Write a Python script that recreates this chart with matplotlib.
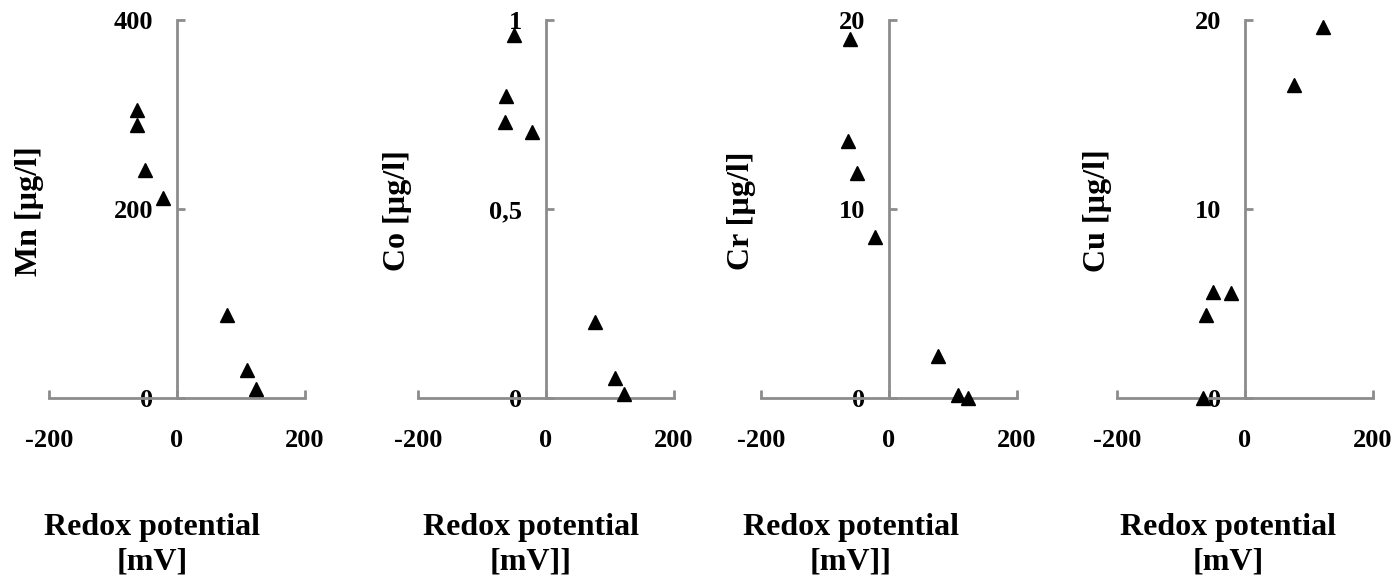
import matplotlib
matplotlib.use("Agg")
import matplotlib.pyplot as plt

# valores
redox_mn = [-63, -62, -50, -22, 78, 109, 123]
mn = [305, 289, 241, 212, 88, 30, 10]
redox_co = [-50, -62, -64, -22, 77, 108, 122]
co = [0.96, 0.80, 0.73, 0.705, 0.20, 0.053, 0.01]
redox_cr = [-61, -64, -50, -22, 77, 108, 124]
cr = [19.0, 13.6, 11.9, 8.5, 2.2, 0.15, 0.0]
redox_cu = [-65, -61, -50, -22, 77, 122]
cu = [0.0, 4.4, 5.6, 5.55, 16.55, 19.65]

y_labels = ['Mn [µg/l]', 'Co [µg/l]', 'Cr [µg/l]', 'Cu [µg/l]']
x_label_1 = 'Redox potential'
x_label_2 = ['[mV]', '[mV]]', '[mV]]', '[mV]']
y_ticks = [[0, 200, 400], [0, 0.5, 1], [0, 10, 20], [0, 10, 20]]
y_ticklabels = [['0', '200', '400'], ['0', '0,5', '1'], ['0', '10', '20'], ['0', '10', '20']]
x_ticks = [-200, 0, 200]
x_ticklabels = ['-200', '0', '200']

series = [(redox_mn, mn), (redox_co, co), (redox_cr, cr), (redox_cu, cu)]

plt.rcParams['font.family'] = ['Liberation Serif', 'DejaVu Serif']
plt.rcParams['font.weight'] = 'bold'
plt.rcParams['axes.unicode_minus'] = False

W, H = 1396, 580
fig = plt.figure(figsize=(W / 100, H / 100), dpi=100)

gris = '#8c8c8c'
izq_px = [49, 418, 761, 1117]
ylab_px = [29, 398, 741, 1097]
xlab_px = [152, 531, 851, 1228]

for i, (x, y) in enumerate(series):
    ax = fig.add_axes([izq_px[i] / W, (H - 398) / H, 256 / W, 378 / H])
    ax.plot(x, y, linestyle='none', marker='^', color='black', markersize=10.5,
            clip_on=False, zorder=5)
    ax.set_xlim(-200, 200)
    ax.set_ylim(y_ticks[i][0], y_ticks[i][-1])
    ax.spines['left'].set_position(('data', 0))
    ax.spines['right'].set_visible(False)
    ax.spines['top'].set_visible(False)
    for s in ['left', 'bottom']:
        ax.spines[s].set_color(gris)
        ax.spines[s].set_linewidth(2)
    ax.set_xticks(x_ticks)
    ax.set_xticklabels(x_ticklabels)
    ax.set_yticks(y_ticks[i])
    ax.set_yticklabels(y_ticklabels[i])
    ax.tick_params(axis='x', direction='in', length=6, width=2, color=gris,
                   pad=22, labelsize=19)
    ax.tick_params(axis='y', direction='in', length=6, width=2, color=gris,
                   pad=17, labelsize=19)
    ax.patch.set_visible(False)

    fig.text(ylab_px[i] / W, 1 - 211 / H, y_labels[i], rotation=90,
             ha='center', va='center', fontsize=23, fontweight='bold')
    # etiqueta del eje x en dos lineas
    fig.text(xlab_px[i] / W, 1 - 535 / H, x_label_1, ha='center', va='baseline',
             fontsize=23, fontweight='bold')
    fig.text(xlab_px[i] / W, 1 - 570 / H, x_label_2[i], ha='center', va='baseline',
             fontsize=23, fontweight='bold')

fig.savefig('out.png', dpi=100)
